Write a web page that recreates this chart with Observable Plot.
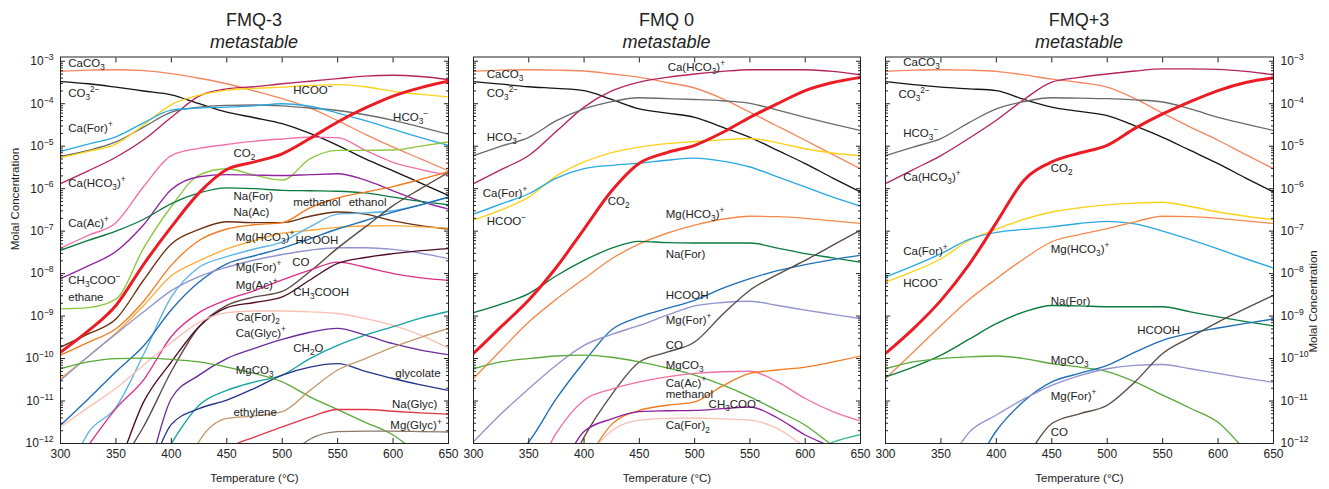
<!DOCTYPE html>
<html>
<head>
<meta charset="utf-8">
<script src="https://cdn.jsdelivr.net/npm/d3@7"></script>
<script src="https://cdn.jsdelivr.net/npm/@observablehq/plot@0.6"></script>
<style>
  html, body { margin: 0; padding: 0; background: #fff; }
  #root { position: relative; width: 1329px; height: 489px; overflow: hidden; font-family: "Liberation Sans", Arial, Helvetica, sans-serif; color: #222; }
  .panel { position: absolute; top: 0; }
  .title { position: absolute; width: 240px; text-align: center; font-size: 18px; line-height: 22px; color: #222; }
  .title.it { font-style: italic; }
</style>
</head>
<body>
<div id="root"></div>
<script>
// ---------------- DATA (log10 of molal concentration) ----------------
const temps = [300, 325, 350, 375, 400, 425, 450, 475, 500, 525, 550, 575, 600, 625, 650];

const panelTitles = ["FMQ-3", "FMQ 0", "FMQ+3"];
const panelSubtitle = "metastable";

const fmqMinus3 = [
  ["CaCO3",     [-3.235,-3.21,-3.20,-3.22,-3.29,-3.40,-3.53,-3.70,-3.88,-4.10,-4.40,-4.72,-5.02,-5.30,-5.58]],
  ["CO3",       [-3.48,-3.53,-3.61,-3.70,-3.79,-4.00,-4.20,-4.33,-4.47,-4.70,-4.98,-5.30,-5.58,-5.87,-6.16]],
  ["CaHCO3",    [-5.88,-5.58,-5.26,-4.85,-4.32,-3.82,-3.65,-3.60,-3.53,-3.47,-3.41,-3.35,-3.33,-3.36,-3.43]],
  ["HCO3",      [-5.24,-5.10,-4.90,-4.55,-4.20,-4.08,-4.04,-4.03,-4.05,-4.10,-4.16,-4.26,-4.39,-4.55,-4.72]],
  ["HCOO",      [-5.27,-5.12,-4.95,-4.50,-4.02,-3.80,-3.68,-3.64,-3.61,-3.57,-3.55,-3.60,-3.71,-3.78,-3.84]],
  ["CaFor",     [-5.12,-4.95,-4.78,-4.45,-4.15,-4.10,-4.08,-4.05,-4.00,-4.06,-4.22,-4.40,-4.60,-4.80,-4.98]],
  ["CaAc",      [-7.40,-7.10,-6.80,-5.95,-5.22,-5.05,-4.96,-4.88,-4.83,-4.79,-4.80,-5.10,-5.38,-5.55,-5.68]],
  ["ethane",    [-8.83,-8.80,-8.60,-7.40,-6.42,-5.68,-5.53,-5.68,-5.80,-5.30,-5.10,-5.10,-5.09,-5.00,-4.90]],
  ["CH3COO",    [-8.12,-7.82,-7.48,-6.85,-6.02,-5.72,-5.67,-5.68,-5.69,-5.67,-5.65,-5.80,-6.05,-6.30,-6.48]],
  ["NaFor",     [-7.45,-7.22,-7.00,-6.72,-6.35,-6.10,-5.98,-6.00,-6.04,-6.05,-6.06,-6.10,-6.20,-6.30,-6.38]],
  ["NaAc",      [-9.73,-9.42,-9.07,-8.15,-7.30,-6.96,-6.78,-6.80,-6.80,-6.65,-6.55,-6.60,-6.76,-6.87,-6.95]],
  ["methanol",  [-9.92,-9.62,-9.30,-8.65,-7.80,-7.22,-6.95,-6.85,-6.80,-6.45,-6.22,-6.08,-5.95,-5.78,-5.60]],
  ["MgHCO3",    [-10.47,-9.95,-9.40,-8.75,-8.05,-7.70,-7.42,-7.22,-7.05,-6.98,-6.91,-6.88,-6.87,-6.90,-6.93]],
  ["ethanol",   [-13.2,-11.75,-11.15,-9.90,-8.55,-7.85,-7.60,-7.42,-7.25,-6.90,-6.60,-6.57,-6.52,-6.38,-6.20]],
  ["HCOOH",     [-11.57,-10.95,-10.31,-9.70,-8.85,-8.20,-7.77,-7.58,-7.40,-7.18,-6.95,-6.75,-6.55,-6.38,-6.20]],
  ["MgFor",     [-10.51,-9.95,-9.42,-8.90,-8.40,-8.07,-7.85,-7.68,-7.55,-7.45,-7.39,-7.39,-7.43,-7.52,-7.65]],
  ["CO",        [-14.0,-13.3,-12.6,-11.60,-10.30,-9.25,-8.75,-8.55,-8.42,-7.95,-7.40,-6.90,-6.40,-6.00,-5.62]],
  ["MgAc",      [-13.0,-12.05,-11.18,-10.50,-9.48,-8.92,-8.62,-8.40,-8.15,-7.92,-7.73,-7.85,-8.00,-8.10,-8.16]],
  ["CH3COOH",   [-15.0,-13.8,-12.65,-11.02,-10.08,-9.25,-8.80,-8.68,-8.55,-8.15,-7.76,-7.62,-7.53,-7.46,-7.41]],
  ["CaFor2",    [-11.61,-11.15,-10.70,-10.15,-9.62,-9.15,-8.92,-8.88,-8.88,-8.90,-8.94,-9.06,-9.22,-9.45,-9.76]],
  ["CaGlyc",    [-16.0,-15.0,-14.2,-13.0,-10.94,-10.39,-10.00,-9.76,-9.55,-9.38,-9.29,-9.45,-9.65,-9.80,-9.91]],
  ["CH2O",      [-16.0,-15.0,-14.0,-13.2,-12.0,-11.10,-10.75,-10.55,-10.39,-10.00,-9.69,-9.45,-9.25,-9.05,-8.89]],
  ["glycolate", [-16.0,-15.0,-14.0,-13.0,-11.55,-11.18,-10.98,-10.70,-10.39,-10.20,-10.12,-10.30,-10.47,-10.62,-10.75]],
  ["MgCO3",     [-10.24,-10.08,-10.00,-9.99,-10.02,-10.08,-10.20,-10.35,-10.55,-10.90,-11.20,-11.50,-11.80,-12.30,-12.80]],
  ["ethylene",  [-16.0,-15.5,-15.0,-14.5,-13.5,-11.95,-11.41,-11.35,-11.25,-10.75,-10.27,-10.00,-9.73,-9.50,-9.29]],
  ["NaGlyc",    [-16.0,-15.5,-15.0,-14.5,-14.0,-13.0,-12.15,-11.85,-11.61,-11.38,-11.20,-11.20,-11.24,-11.28,-11.31]],
  ["MgGlyc",    [-16.0,-16.0,-16.0,-16.0,-15.5,-15.0,-14.5,-13.5,-12.5,-11.90,-11.72,-11.71,-11.71,-11.72,-11.73]],
  ["CO2",       [-9.85,-9.35,-8.75,-7.78,-6.90,-6.10,-5.55,-5.37,-5.18,-4.82,-4.43,-4.10,-3.82,-3.62,-3.47]]
];

const fmqZero = [
  ["CaCO3",     [-3.235,-3.21,-3.20,-3.21,-3.23,-3.30,-3.38,-3.50,-3.63,-3.88,-4.20,-4.53,-4.86,-5.20,-5.53]],
  ["CO3",       [-3.48,-3.54,-3.60,-3.64,-3.69,-3.90,-4.12,-4.22,-4.32,-4.55,-4.79,-5.10,-5.41,-5.75,-6.08]],
  ["CaHCO3",    [-5.88,-5.55,-5.22,-4.65,-4.08,-3.70,-3.49,-3.38,-3.30,-3.24,-3.20,-3.20,-3.20,-3.24,-3.32]],
  ["HCO3",      [-5.22,-5.00,-4.79,-4.40,-4.12,-3.95,-3.86,-3.88,-3.90,-3.93,-3.99,-4.15,-4.32,-4.48,-4.63]],
  ["HCOO",      [-6.74,-6.50,-6.20,-5.70,-5.37,-5.15,-5.02,-4.94,-4.89,-4.85,-4.82,-4.92,-5.06,-5.16,-5.23]],
  ["CaFor",     [-6.60,-6.36,-6.12,-5.75,-5.53,-5.45,-5.40,-5.33,-5.28,-5.35,-5.49,-5.72,-5.96,-6.20,-6.41]],
  ["MgHCO3",    [-10.47,-9.80,-9.14,-8.60,-8.12,-7.65,-7.30,-7.05,-6.86,-6.72,-6.65,-6.66,-6.70,-6.76,-6.82]],
  ["NaFor",     [-8.92,-8.72,-8.47,-8.05,-7.69,-7.40,-7.24,-7.27,-7.28,-7.28,-7.28,-7.40,-7.53,-7.63,-7.73]],
  ["HCOOH",     [-13.3,-12.6,-11.96,-10.94,-10.08,-9.32,-9.02,-8.82,-8.63,-8.35,-8.12,-7.93,-7.79,-7.67,-7.57]],
  ["MgFor",     [-11.96,-11.30,-10.71,-10.15,-9.69,-9.43,-9.22,-8.98,-8.76,-8.68,-8.65,-8.75,-8.86,-8.96,-9.06]],
  ["CO",        [-16.0,-15.0,-14.0,-13.2,-11.85,-10.85,-10.08,-9.85,-9.61,-8.97,-8.39,-8.02,-7.69,-7.33,-6.98]],
  ["MgCO3",     [-10.24,-10.08,-10.00,-9.94,-9.92,-9.97,-10.08,-10.22,-10.39,-10.62,-10.90,-11.23,-11.57,-12.05,-12.50]],
  ["CaAc",      [-15.0,-14.0,-13.0,-11.75,-10.98,-10.72,-10.55,-10.43,-10.35,-10.31,-10.30,-10.55,-10.94,-11.25,-11.47]],
  ["methanol",  [-16.0,-15.5,-15.0,-13.5,-12.5,-11.55,-11.22,-11.10,-11.02,-10.65,-10.35,-10.27,-10.20,-10.08,-9.94]],
  ["CH3COO",    [-16.0,-15.0,-14.0,-12.8,-11.72,-11.42,-11.25,-11.23,-11.22,-11.18,-11.14,-11.40,-11.80,-12.10,-12.50]],
  ["CaFor2",    [-16.0,-15.5,-15.0,-14.0,-12.5,-11.70,-11.45,-11.41,-11.40,-11.42,-11.45,-11.65,-12.08,-12.50,-13.0]],
  ["CH2O",      [-16.0,-16.0,-16.0,-16.0,-16.0,-15.5,-15.0,-14.5,-14.0,-13.5,-13.0,-12.6,-12.3,-11.97,-11.79]],
  ["CO2",       [-9.88,-9.25,-8.62,-7.85,-6.95,-6.05,-5.40,-5.15,-4.98,-4.68,-4.32,-4.00,-3.69,-3.50,-3.38]]
];

const fmqPlus3 = [
  ["CaCO3",     [-3.235,-3.21,-3.20,-3.21,-3.24,-3.32,-3.42,-3.50,-3.61,-3.88,-4.22,-4.55,-4.86,-5.20,-5.53]],
  ["CO3",       [-3.48,-3.55,-3.61,-3.65,-3.69,-3.90,-4.08,-4.18,-4.28,-4.52,-4.79,-5.10,-5.41,-5.75,-6.08]],
  ["CaHCO3",    [-5.88,-5.55,-5.22,-4.82,-4.39,-3.90,-3.49,-3.38,-3.30,-3.23,-3.18,-3.18,-3.19,-3.24,-3.32]],
  ["HCO3",      [-5.22,-5.02,-4.82,-4.45,-4.12,-3.95,-3.86,-3.87,-3.88,-3.91,-3.96,-4.12,-4.32,-4.48,-4.63]],
  ["HCOO",      [-8.20,-7.95,-7.65,-7.22,-6.95,-6.72,-6.55,-6.45,-6.38,-6.34,-6.32,-6.42,-6.55,-6.65,-6.73]],
  ["CaFor",     [-8.08,-7.82,-7.53,-7.20,-7.03,-6.96,-6.90,-6.82,-6.77,-6.83,-7.00,-7.20,-7.42,-7.65,-7.87]],
  ["MgHCO3",    [-10.47,-9.85,-9.22,-8.62,-8.12,-7.65,-7.25,-7.08,-6.94,-6.78,-6.65,-6.66,-6.70,-6.76,-6.82]],
  ["NaFor",     [-10.43,-10.20,-9.92,-9.55,-9.18,-8.90,-8.75,-8.76,-8.78,-8.78,-8.78,-8.90,-9.02,-9.13,-9.23]],
  ["MgCO3",     [-10.24,-10.08,-10.00,-9.96,-9.94,-10.00,-10.12,-10.20,-10.31,-10.55,-10.86,-11.17,-11.50,-12.15,-12.60]],
  ["HCOOH",     [-16.0,-15.0,-13.5,-12.8,-11.70,-11.00,-10.55,-10.35,-10.16,-9.85,-9.57,-9.40,-9.28,-9.17,-9.07]],
  ["MgFor",     [-15.0,-14.0,-12.8,-11.75,-11.33,-10.95,-10.63,-10.40,-10.24,-10.16,-10.14,-10.24,-10.35,-10.46,-10.56]],
  ["CO",        [-16.0,-16.0,-15.5,-14.5,-13.2,-12.40,-11.53,-11.30,-11.10,-10.55,-9.88,-9.50,-9.14,-8.82,-8.51]],
  ["CO2",       [-9.88,-9.30,-8.63,-7.80,-6.80,-5.80,-5.37,-5.16,-4.98,-4.58,-4.24,-3.95,-3.69,-3.50,-3.39]]
];

// species labels: [text, temperature, log10 concentration]
const labelsMinus3 = [
  ["CaCO_3", 307, -3.05], ["CO_3^{2−}", 307, -3.75], ["Ca(For)^+", 307, -4.58], ["HCOO^−", 510, -3.68],
  ["HCO_3^−", 600, -4.32], ["CO_2", 456, -5.17], ["Ca(HCO_3)^+", 307, -5.87], ["Na(For)", 456, -6.18],
  ["methanol", 510, -6.32], ["ethanol", 560, -6.32], ["Na(Ac)", 456, -6.56], ["Ca(Ac)^+", 307, -6.82],
  ["Mg(HCO_3)^+", 458, -7.15], ["HCOOH", 512, -7.22], ["Mg(For)^+", 458, -7.85], ["CO", 509, -7.74],
  ["CH_3COO^−", 307, -8.16], ["ethane", 307, -8.56], ["Mg(Ac)^+", 458, -8.28], ["CH_3COOH", 510, -8.44],
  ["Ca(For)_2", 458, -9.03], ["Ca(Glyc)^+", 458, -9.41], ["CH_2O", 510, -9.76], ["MgCO_3", 458, -10.28],
  ["glycolate", 602, -10.35], ["ethylene", 456, -11.27], ["Na(Glyc)", 599, -11.08], ["Mg(Glyc)^+", 597.5, -11.58]
];
const labelsZero = [
  ["CaCO_3", 312, -3.31], ["CO_3^{2−}", 312, -3.75], ["Ca(HCO_3)^+", 475.6, -3.14], ["HCO_3^−", 312, -4.79],
  ["Ca(For)^+", 308.4, -6.11], ["HCOO^−", 312, -6.77], ["CO_2", 421.4, -6.30], ["Mg(HCO_3)^+", 473.8, -6.61],
  ["Na(For)", 473.8, -7.55], ["HCOOH", 473.8, -8.51], ["Mg(For)^+", 473.8, -9.10], ["CO", 473.8, -9.69],
  ["MgCO_3", 473.8, -10.16], ["Ca(Ac)^+", 473.8, -10.59], ["methanol", 473.8, -10.85],
  ["CH_3COO^−", 512.6, -11.08], ["Ca(For)_2", 473.8, -11.58]
];
const labelsPlus3 = [
  ["CaCO_3", 316, -3.02], ["CO_3^{2−}", 311.7, -3.78], ["HCO_3^−", 316, -4.70], ["Ca(HCO_3)^+", 316, -5.73],
  ["CO_2", 449, -5.52], ["Ca(For)^+", 316, -7.48], ["HCOO^−", 316, -8.23], ["Mg(HCO_3)^+", 449, -7.43],
  ["Na(For)", 449, -8.65], ["HCOOH", 527, -9.34], ["MgCO_3", 449, -10.04], ["Mg(For)^+", 449, -10.89],
  ["CO", 449, -11.74]
];

const xTicks = [300, 350, 400, 450, 500, 550, 600, 650];
const yDecades = [-12, -11, -10, -9, -8, -7, -6, -5, -4, -3];

// ---------------- STYLE ----------------
const palette = {
  CaCO3: "#f4875f", CO3: "#151515", CaHCO3: "#b5245c", HCO3: "#6b6b6b", HCOO: "#fbd21a",
  CaFor: "#2aa9e0", CaAc: "#f070a8", ethane: "#8cc63f", CH3COO: "#92249f", NaFor: "#0b7a3e",
  NaAc: "#6b300f", methanol: "#f47a20", MgHCO3: "#f68a4c", ethanol: "#5bb4e6", HCOOH: "#1e6db5",
  MgFor: "#9294cf", CO: "#594a42", MgAc: "#dc2f89", CH3COOH: "#4e0b25", CaFor2: "#f9c0b3",
  CaGlyc: "#6b2c9b", CH2O: "#17a2a4", glycolate: "#27348b", MgCO3: "#5aaa3a", ethylene: "#c39a6b",
  NaGlyc: "#e0394a", MgGlyc: "#8b7868", CO2: "#ec1c24"
};
const FONT = "'Liberation Sans', Arial, Helvetica, sans-serif";

function rows(vals) { return temps.map((T, i) => ({T, c: Math.pow(10, vals[i])})); }

function richify(svg) {
  svg.querySelectorAll("text").forEach(t => {
    const s = t.textContent;
    if (!/[_^]/.test(s)) return;
    const fs = parseFloat(getComputedStyle(t).fontSize) || 12;
    const parts = [];
    let i = 0, buf = "";
    while (i < s.length) {
      const ch = s[i];
      if (ch === "_" || ch === "^") {
        if (buf) { parts.push({type: "n", text: buf}); buf = ""; }
        let txt;
        if (s[i + 1] === "{") { const j = s.indexOf("}", i + 2); txt = s.slice(i + 2, j); i = j + 1; }
        else { txt = s[i + 1]; i += 2; }
        parts.push({type: ch === "_" ? "sub" : "sup", text: txt});
      } else { buf += ch; i++; }
    }
    if (buf) parts.push({type: "n", text: buf});
    t.textContent = "";
    let offset = 0;
    for (const p of parts) {
      const ts = document.createElementNS("http://www.w3.org/2000/svg", "tspan");
      ts.textContent = p.text;
      let target = 0;
      if (p.type === "sup") target = -0.42 * fs;
      if (p.type === "sub") target = 0.28 * fs;
      if (p.type !== "n") ts.setAttribute("font-size", (0.72 * fs).toFixed(2));
      const d = target - offset;
      if (Math.abs(d) > 0.01) ts.setAttribute("dy", d.toFixed(2));
      offset = target;
      t.appendChild(ts);
    }
  });
}

function makePanel({series, labels, width, mL, mR, yLabels, overrides = {}}) {
  const minor = [];
  for (let e = -12; e < -3; e++) for (let m = 2; m <= 9; m++) minor.push(m * Math.pow(10, e));
  const majors = yDecades.map(e => Math.pow(10, e));
  const lineMarks = [];
  const ordered = series.filter(s => s[0] !== "CO2").concat(series.filter(s => s[0] === "CO2"));
  for (const [name, vals] of ordered) {
    lineMarks.push(Plot.line(rows(vals), {
      x: "T", y: "c", stroke: overrides[name] || palette[name],
      strokeWidth: name === "CO2" ? 3 : 1.35, curve: "monotone-x", clip: true
    }));
  }
  const tickCommon = {fill: "none", tickFormat: () => "", label: null, stroke: "#222"};
  const marks = [
    ...lineMarks,
    Plot.text(labels, {x: d => d[1], y: d => Math.pow(10, d[2]), text: d => d[0],
      textAnchor: "start", lineAnchor: "middle", fontSize: 11.5, fill: "#222"}),
    Plot.frame({stroke: "#222", strokeWidth: 1}),
    Plot.axisX({...tickCommon, anchor: "bottom", ticks: xTicks, tickSize: 5, dy: -5}),
    Plot.axisX({...tickCommon, anchor: "top", ticks: xTicks, tickSize: 5, dy: 5}),
    Plot.axisY({...tickCommon, anchor: "left", ticks: majors, tickSize: 5, dx: 5}),
    Plot.axisY({...tickCommon, anchor: "right", ticks: majors, tickSize: 5, dx: -5}),
    Plot.axisY({...tickCommon, anchor: "left", ticks: minor, tickSize: 3, dx: 3}),
    Plot.axisY({...tickCommon, anchor: "right", ticks: minor, tickSize: 3, dx: -3}),
    Plot.axisX({anchor: "bottom", ticks: xTicks, tickSize: 0, tickPadding: 6, fontSize: 12,
      tickFormat: d => String(d), label: null, fill: "#222"}),
    Plot.text(["Temperature (°C)"], {frameAnchor: "bottom", dy: 35, text: d => d, fontSize: 11.5, fill: "#222", lineAnchor: "middle"})
  ];
  if (yLabels) {
    const left = yLabels === "left";
    marks.push(Plot.axisY({anchor: yLabels, ticks: majors, tickSize: 0, tickPadding: 7, fontSize: 12,
      tickFormat: d => "10^{−" + (-Math.round(Math.log10(d))) + "}", label: null, fill: "#222"}));
    marks.push(Plot.text(["Molal Concentration"], {frameAnchor: yLabels, dx: left ? -45 : 40, rotate: -90,
      text: d => d, fontSize: 11.5, fill: "#222", lineAnchor: "middle"}));
  }
  return Plot.plot({
    width, height: 489,
    marginLeft: mL, marginRight: mR, marginTop: 56.5, marginBottom: 46,
    x: {domain: [300, 650], label: null},
    y: {type: "log", domain: [1e-12, Math.pow(10, -2.9)], label: null},
    style: {fontFamily: FONT, fontSize: "12px", background: "transparent", overflow: "visible", color: "#222"},
    marks
  });
}

const root = document.getElementById("root");
const specs = [
  {left: 0, series: fmqMinus3, labels: labelsMinus3, width: 462, mL: 60, mR: 14, yLabels: "left",
   overrides: {MgHCO3: "#fbac3a"}, center: 254},
  {left: 462, series: fmqZero, labels: labelsZero, width: 408, mL: 11, mR: 10, yLabels: null,
   overrides: {CH2O: "#4db896", CH3COO: "#8e1f9c"}, center: 666.5},
  {left: 870, series: fmqPlus3, labels: labelsPlus3, width: 459, mL: 15, mR: 56, yLabels: "right",
   overrides: {}, center: 1079}
];
specs.forEach((s, i) => {
  const div = document.createElement("div");
  div.className = "panel";
  div.style.left = s.left + "px";
  div.style.width = s.width + "px";
  const svg = makePanel(s);
  div.appendChild(svg);
  root.appendChild(div);
  richify(svg);
  const t1 = document.createElement("div");
  t1.className = "title";
  t1.style.left = (s.center - 120) + "px";
  t1.style.top = "9px";
  t1.textContent = panelTitles[i];
  const t2 = document.createElement("div");
  t2.className = "title it";
  t2.style.left = (s.center - 120) + "px";
  t2.style.top = "31px";
  t2.textContent = panelSubtitle;
  root.appendChild(t1);
  root.appendChild(t2);
});
</script>
</body>
</html>
